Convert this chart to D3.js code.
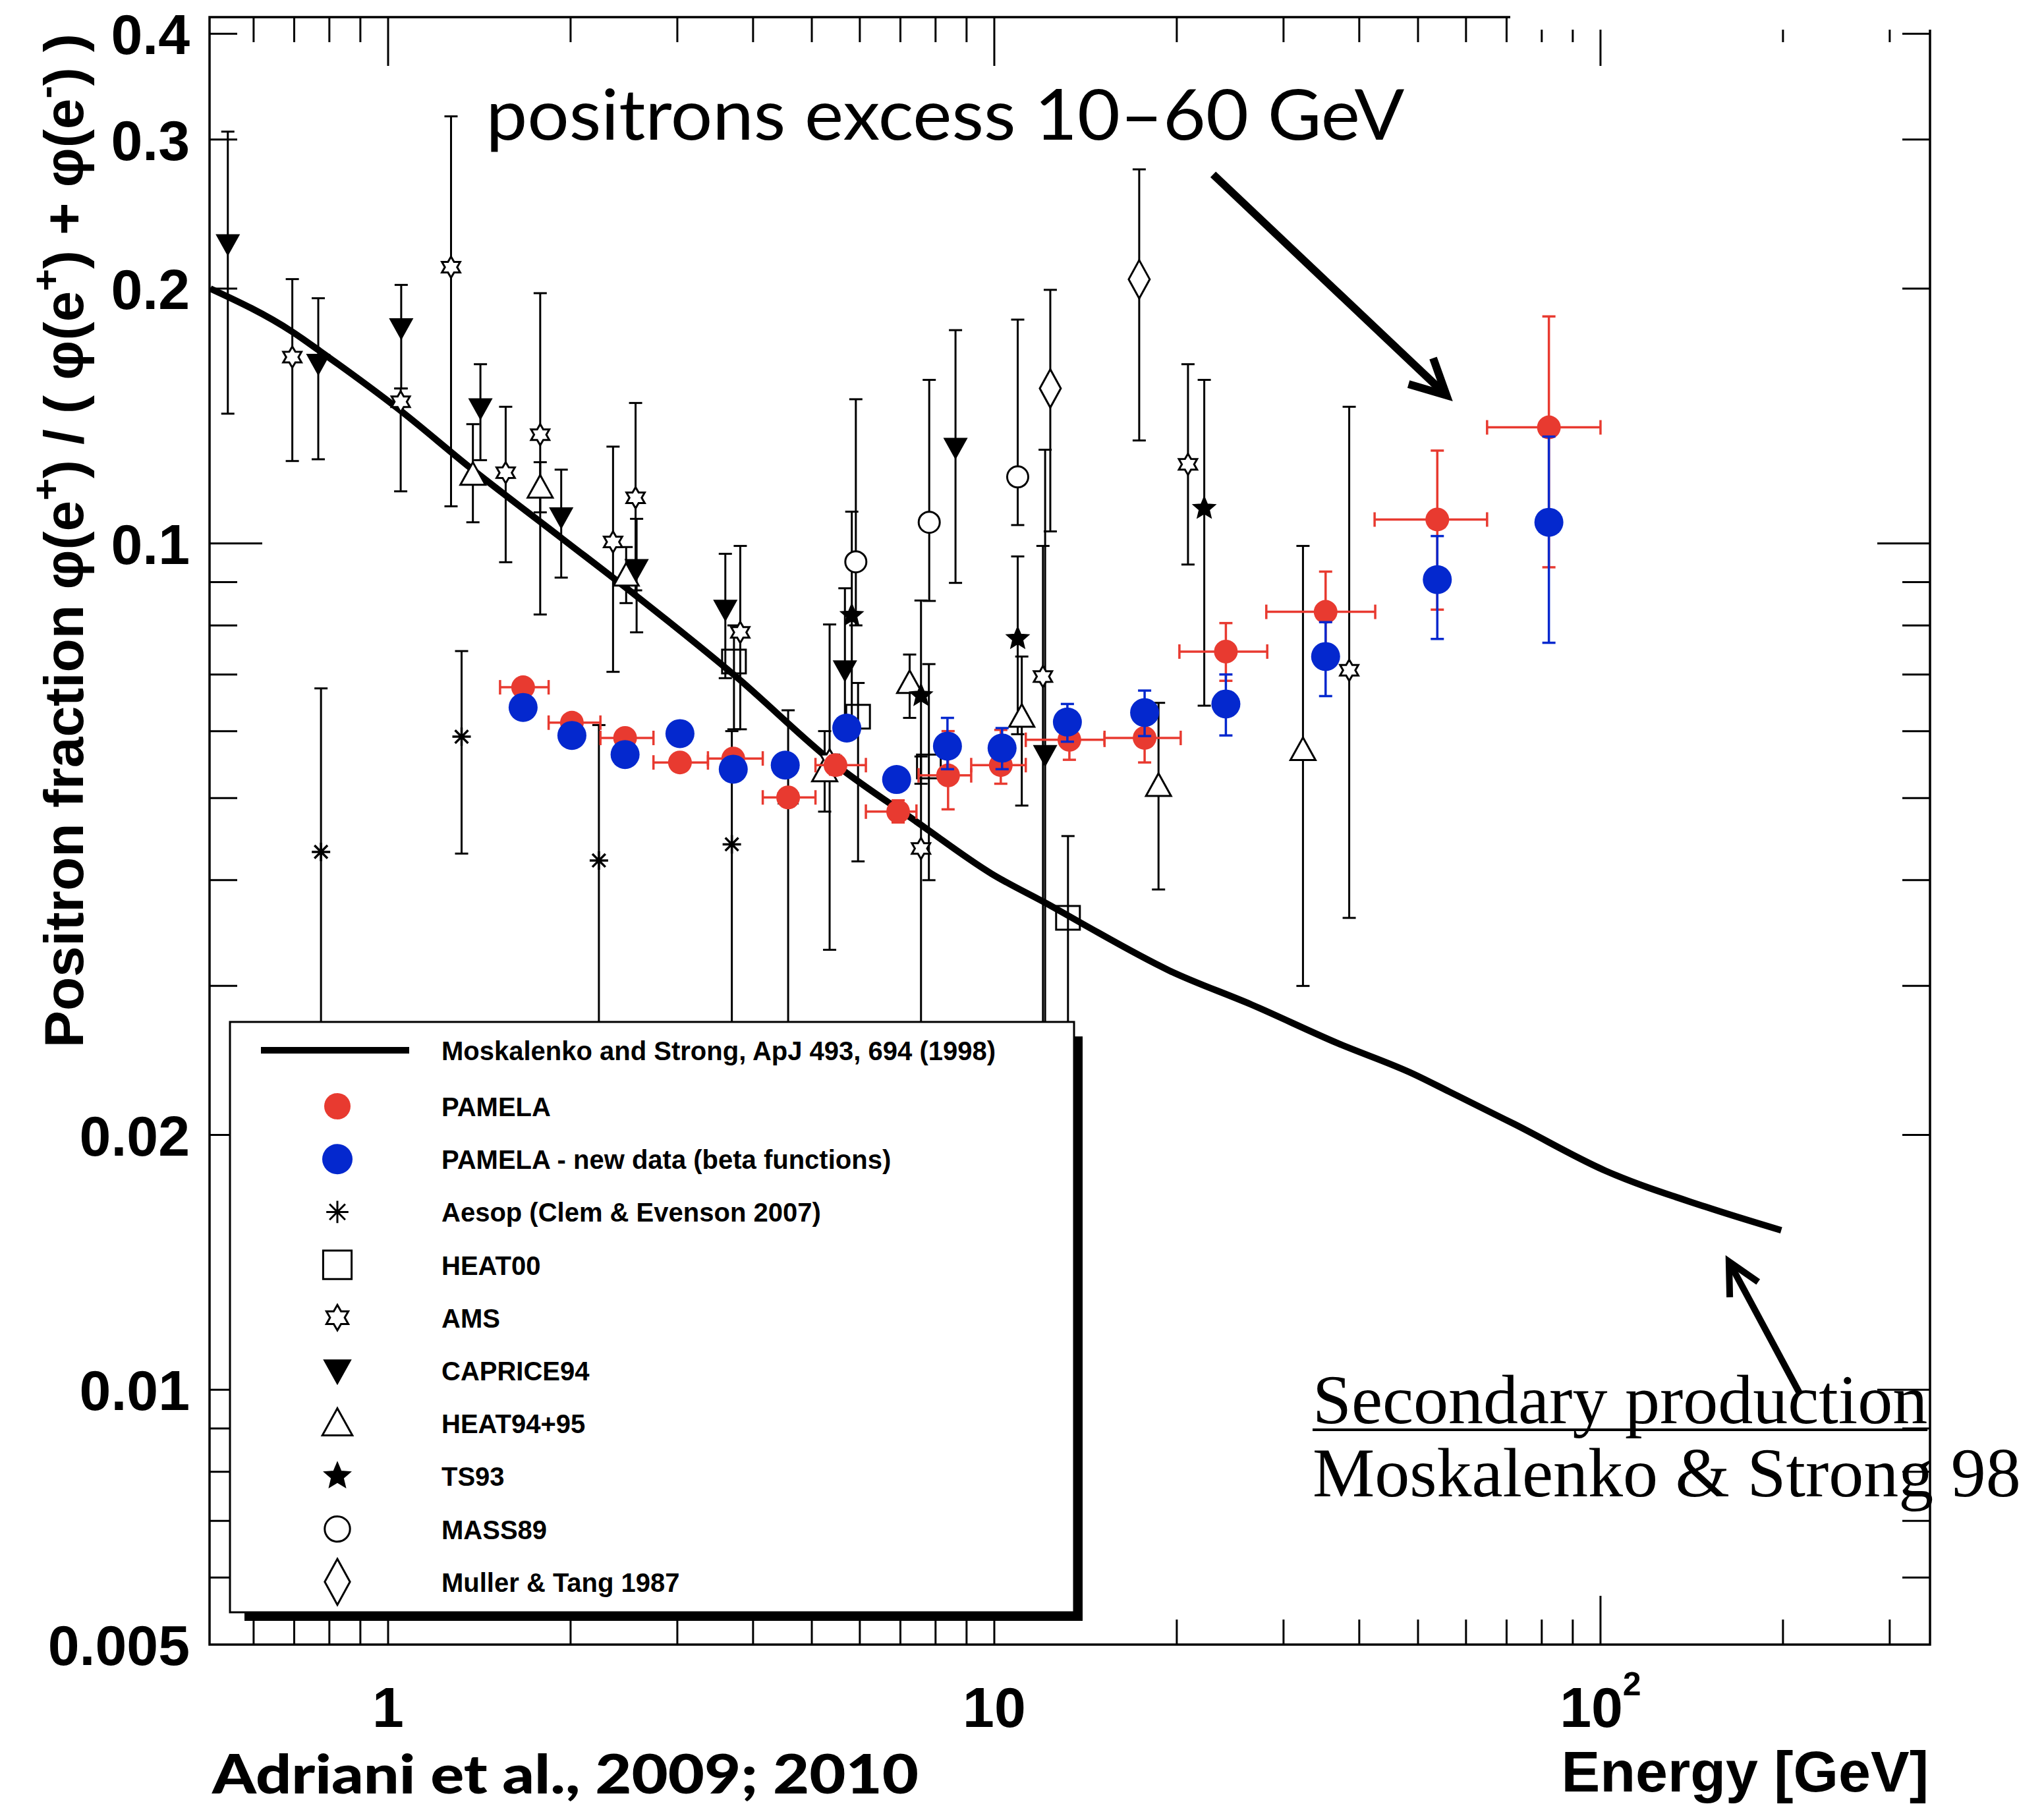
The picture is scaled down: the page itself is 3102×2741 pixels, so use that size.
<!DOCTYPE html>
<html>
<head>
<meta charset="utf-8">
<script src="https://cdn.jsdelivr.net/npm/d3@7/dist/d3.min.js"></script>
<style>
  body { margin: 0; background: #fff; }
  svg { display: block; }
</style>
</head>
<body>
<div id="chart"></div>
<script>
// ---- values ----

// Moskalenko & Strong secondary production: [E (GeV), e+ fraction]
const msCurve = [
  [0.509, 0.200], [0.695, 0.1778], [0.771, 0.1688], [1.043, 0.1439], [1.369, 0.1227],
  [1.93, 0.1015], [2.55, 0.087], [3.74, 0.0697], [5.47, 0.0548],
  [7.44, 0.0469], [9.9, 0.0407], [12.4, 0.0373], [14.1, 0.0354], [19.4, 0.0313],
  [26.6, 0.0285], [36.7, 0.0257], [49.2, 0.0236], [56.3, 0.0225], [72.1, 0.0206],
  [101.8, 0.01815], [149, 0.01645], [198.7, 0.01543]
];

// PAMELA: [E, f, Elow, Ehigh, fLow, fHigh]
const pamela = [
  [1.67, 0.0676, 1.53, 1.84, 0.0664, 0.0690],
  [2.01, 0.0614, 1.84, 2.24, 0.0603, 0.0626],
  [2.46, 0.0589, 2.24, 2.74, 0.0578, 0.0600],
  [3.03, 0.0551, 2.74, 3.37, 0.0540, 0.0562],
  [3.71, 0.0557, 3.37, 4.15, 0.0545, 0.0569],
  [4.57, 0.0501, 4.15, 5.07, 0.0489, 0.0513],
  [5.47, 0.0547, 5.07, 6.14, 0.0533, 0.0561],
  [6.94, 0.0482, 6.14, 7.44, 0.0468, 0.0497],
  [8.39, 0.0532, 7.50, 9.16, 0.0485, 0.0600],
  [10.25, 0.0547, 9.16, 11.27, 0.0520, 0.0602],
  [13.3, 0.0586, 11.27, 15.2, 0.0555, 0.0620],
  [17.7, 0.0589, 15.2, 20.3, 0.0551, 0.0640],
  [24.1, 0.0745, 20.2, 28.2, 0.0688, 0.0805],
  [35.2, 0.0830, 28.1, 42.5, 0.0746, 0.0926],
  [53.8, 0.1067, 42.4, 65.0, 0.0835, 0.1287],
  [82.2, 0.1371, 65.0, 100, 0.0937, 0.1854]
];

// PAMELA new data (beta functions): [E, f, fLow, fHigh]
const pamelaNew = [
  [1.67, 0.0640, 0.0630, 0.0650], [2.01, 0.0593, 0.0584, 0.0602],
  [2.46, 0.0563, 0.0554, 0.0572], [3.03, 0.0596, 0.0587, 0.0606],
  [3.71, 0.0541, 0.0531, 0.0551], [4.52, 0.0547, 0.0536, 0.0558],
  [5.71, 0.0605, 0.0592, 0.0618], [6.9, 0.0526, 0.0513, 0.0540],
  [8.37, 0.0576, 0.0541, 0.0622], [10.3, 0.0573, 0.0541, 0.0605],
  [13.2, 0.0615, 0.0583, 0.0646], [17.7, 0.0631, 0.0592, 0.0670],
  [24.1, 0.0646, 0.0593, 0.0700], [35.2, 0.0735, 0.0660, 0.0807],
  [53.8, 0.0906, 0.0771, 0.1020], [82.2, 0.1059, 0.0763, 0.1337]
];

// other experiments: [E, f, fLow, fHigh]
const aesop = [
  [0.775, 0.0432, 0.008, 0.0674], [1.322, 0.0591, 0.0430, 0.0746],
  [2.227, 0.0422, 0.008, 0.0610], [3.69, 0.0441, 0.008, 0.0600]
];
const heat00 = [
  [3.72, 0.0725, 0.0603, 0.0800], [5.96, 0.0624, 0.0421, 0.0684],
  [7.8, 0.0545, 0.0400, 0.0720], [13.23, 0.0361, 0.008, 0.0451]
];
const ams = [
  [0.695, 0.166, 0.1251, 0.2052], [1.049, 0.147, 0.1152, 0.1524],
  [1.27, 0.212, 0.1106, 0.3195], [1.563, 0.1212, 0.0950, 0.1450],
  [1.782, 0.1344, 0.0824, 0.1975], [2.35, 0.1004, 0.0705, 0.1301],
  [2.56, 0.1132, 0.0880, 0.1465], [3.81, 0.0785, 0.0603, 0.0993],
  [4.57, 0.0500, 0.008, 0.0635], [5.35, 0.0555, 0.0331, 0.0802],
  [7.57, 0.0436, 0.008, 0.0560], [12.03, 0.0696, 0.008, 0.0993],
  [20.87, 0.124, 0.0944, 0.1628], [38.5, 0.0708, 0.0361, 0.1450]
];
const caprice94 = [
  [0.544, 0.226, 0.1423, 0.3065], [0.767, 0.1632, 0.1257, 0.1948],
  [1.051, 0.1798, 0.1524, 0.2020], [1.42, 0.1446, 0.1254, 0.1628],
  [1.93, 0.1075, 0.0911, 0.1222], [2.57, 0.0934, 0.0785, 0.1069],
  [3.60, 0.0836, 0.0693, 0.0972], [5.67, 0.0709, 0.0600, 0.0885],
  [8.63, 0.1299, 0.0898, 0.1786], [12.13, 0.0563, 0.008, 0.1290]
];
const heat9495 = [
  [1.38, 0.1205, 0.1059, 0.1383], [1.782, 0.1164, 0.1088, 0.1247],
  [2.47, 0.0916, 0.0850, 0.0990], [5.25, 0.0538, 0.0482, 0.0600],
  [7.25, 0.0684, 0.0622, 0.0739], [11.1, 0.0624, 0.0490, 0.0735],
  [18.66, 0.0517, 0.0390, 0.0648], [32.3, 0.0570, 0.0300, 0.0993]
];
const ts93 = [
  [5.82, 0.0822, 0.0620, 0.1090], [7.57, 0.0661, 0.0520, 0.0856],
  [10.93, 0.0772, 0.0595, 0.0965], [22.2, 0.110, 0.0643, 0.156]
];
const mass89 = [
  [5.91, 0.0951, 0.0800, 0.148], [7.81, 0.1059, 0.0855, 0.156],
  [10.93, 0.1198, 0.1051, 0.1838]
];
const mullerTang = [
  [12.37, 0.1524, 0.1033, 0.1993], [17.34, 0.2051, 0.1323, 0.2766]
];

const legendLabels = [
  "Moskalenko and Strong, ApJ 493, 694 (1998)", "PAMELA",
  "PAMELA - new data (beta functions)", "Aesop (Clem & Evenson 2007)", "HEAT00",
  "AMS", "CAPRICE94", "HEAT94+95", "TS93", "MASS89", "Muller & Tang 1987"
];
const legendKeys = ["line", "pamela", "pamelaNew", "asterisk", "square", "star6",
  "triDown", "triUp", "star5", "circle", "diamond"];

const xMajorTicks = [1, 10, 100];
const xMinorTicks = [0.6, 0.7, 0.8, 0.9, 2, 3, 4, 5, 6, 7, 8, 9,
  20, 30, 40, 50, 60, 70, 80, 90, 200, 300];
const yMajorTicks = [0.01, 0.1];
const yMinorTicks = [0.006, 0.007, 0.008, 0.009, 0.02, 0.03, 0.04, 0.05, 0.06,
  0.07, 0.08, 0.09, 0.2, 0.3, 0.4];
const xTickLabels = [[1, "1"], [10, "10"], [100, "10^2"]];
const yTickLabels = [0.4, 0.3, 0.2, 0.1, 0.02, 0.01, 0.005];

// 1) canvas
const W = 3102, H = 2741;
const plot = { left: 318, right: 2929, top: 26, bottom: 2496 };
const RED = "rgb(232,58,48)", BLUE = "rgb(4,40,206)";
const SANS = "'Liberation Sans', Arial, Helvetica, sans-serif";

const svg = d3.select("#chart").append("svg")
  .attr("width", W).attr("height", H)
  .style("background", "#fff");

// 2) scales
const x = d3.scaleLog().domain([0.5075, 349.6]).range([plot.left, plot.right]);
const y = d3.scaleLog().domain([0.005, 0.4185]).range([plot.bottom, plot.top]);

// 3) frame + ticks (ROOT style: ticks on all four sides, pointing inwards)
const axisG = svg.append("g").attr("stroke", "#000").attr("stroke-width", 3);
axisG.append("rect")
  .attr("x", plot.left).attr("y", plot.top)
  .attr("width", plot.right - plot.left).attr("height", plot.bottom - plot.top)
  .attr("fill", "none").attr("stroke-width", 3.5);

const xTicks = xMajorTicks.map(v => [v, 74]).concat(xMinorTicks.map(v => [v, 38]));
const yTicks = yMajorTicks.map(v => [v, 80]).concat(yMinorTicks.map(v => [v, 42]));

axisG.selectAll("line.xb").data(xTicks).join("line")
  .attr("x1", d => x(d[0])).attr("x2", d => x(d[0]))
  .attr("y1", plot.bottom).attr("y2", d => plot.bottom - d[1]);
axisG.selectAll("line.xt").data(xTicks).join("line")
  .attr("x1", d => x(d[0])).attr("x2", d => x(d[0]))
  .attr("y1", plot.top).attr("y2", d => plot.top + d[1]);
axisG.selectAll("line.yl").data(yTicks).join("line")
  .attr("y1", d => y(d[0])).attr("y2", d => y(d[0]))
  .attr("x1", plot.left).attr("x2", d => plot.left + d[1]);
axisG.selectAll("line.yr").data(yTicks).join("line")
  .attr("y1", d => y(d[0])).attr("y2", d => y(d[0]))
  .attr("x1", plot.right).attr("x2", d => plot.right - d[1]);

// the slide had a white box pasted over the top right corner
svg.append("rect").attr("x", 2292).attr("y", 0).attr("width", W - 2292).attr("height", 45)
  .attr("fill", "#fff");

// 4) tick labels
svg.append("g").selectAll("text").data(yTickLabels).join("text")
  .attr("x", 288).attr("y", d => y(d) + 31)
  .attr("text-anchor", "end")
  .attr("font-family", SANS).attr("font-weight", "bold").attr("font-size", 86)
  .text(d => String(d));

xTickLabels.forEach(([v, t]) => {
  const parts = t.split("^");
  const tx = svg.append("text")
    .attr("x", x(v)).attr("y", 2621)
    .attr("text-anchor", "middle")
    .attr("font-family", SANS).attr("font-weight", "bold").attr("font-size", 86);
  tx.append("tspan").text(parts[0]);
  if (parts[1]) tx.append("tspan").attr("dy", -48).attr("font-size", 50).text(parts[1]);
});

// 5) axis titles
svg.append("text")
  .attr("x", 2927).attr("y", 2719).attr("text-anchor", "end")
  .attr("font-family", SANS).attr("font-weight", "bold").attr("font-size", 88)
  .text("Energy [GeV]");

const yLab = svg.append("text")
  .attr("transform", "translate(126,1590) rotate(-90)")
  .attr("font-family", SANS).attr("font-weight", "bold").attr("font-size", 84);
[["Positron fraction \u03c6(e", 0], ["+", 1], [") / ( \u03c6(e", 0], ["+", 1],
 [") + \u03c6(e", 0], ["-", 1], [") )", 0]].forEach(([t, sup], i, arr) => {
  const prevSup = i > 0 && arr[i - 1][1];
  const sp = yLab.append("tspan").text(t);
  if (sup) sp.attr("dy", -36).attr("font-size", 58);
  else if (prevSup) sp.attr("dy", 36);
});

// 6) marker shapes
function poly(c, pts) {
  pts.forEach((p, i) => i ? c.lineTo(p[0], p[1]) : c.moveTo(p[0], p[1]));
  c.closePath();
}
function starPts(n, R, r) {
  return d3.range(2 * n).map(i => {
    const a = -Math.PI / 2 + i * Math.PI / n, rr = i % 2 ? r : R;
    return [rr * Math.cos(a), rr * Math.sin(a)];
  });
}
const shapes = {
  circle:  { draw(c, s) { const r = Math.sqrt(s) / 2; c.moveTo(r, 0); c.arc(0, 0, r, 0, 2 * Math.PI); } },
  square:  { draw(c, s) { const r = Math.sqrt(s) / 2; c.rect(-r, -r, 2 * r, 2 * r); } },
  triDown: { draw(c, s) { const r = Math.sqrt(s) / 2; poly(c, [[0, r], [-r, -r * 0.8], [r, -r * 0.8]]); } },
  triUp:   { draw(c, s) { const r = Math.sqrt(s) / 2; poly(c, [[0, -r], [r, r * 0.8], [-r, r * 0.8]]); } },
  diamond: { draw(c, s) { const r = Math.sqrt(s) / 2; poly(c, [[0, -r], [r * 0.55, 0], [0, r], [-r * 0.55, 0]]); } },
  star6:   { draw(c, s) { const R = Math.sqrt(s) / 2; poly(c, starPts(6, R, R * 0.58)); } },
  star5:   { draw(c, s) { const R = Math.sqrt(s) / 2; poly(c, starPts(5, R, R * 0.45)); } },
  asterisk:{ draw(c, s) {
    const r = Math.sqrt(s) / 2;
    for (let i = 0; i < 4; i++) {
      const a = i * Math.PI / 4;
      c.moveTo(r * Math.cos(a), r * Math.sin(a)); c.lineTo(-r * Math.cos(a), -r * Math.sin(a));
    }
  } }
};
const styles = {
  asterisk: { size: 28, fill: "none" },
  square:   { size: 36, fill: "none" },
  star6:    { size: 32, fill: "#fff" },
  triDown:  { size: 32, fill: "#000" },
  triUp:    { size: 38, fill: "#fff" },
  star5:    { size: 32, fill: "#000" },
  circle:   { size: 32, fill: "#fff" },
  diamond:  { size: 58, fill: "#fff" }
};
const sym = (shape, size) => d3.symbol().type(shapes[shape]).size(size * size)();

// 7) Moskalenko & Strong curve
svg.append("path")
  .datum(msCurve)
  .attr("d", d3.line().x(d => x(d[0])).y(d => y(d[1])).curve(d3.curveMonotoneX))
  .attr("fill", "none").attr("stroke", "#000").attr("stroke-width", 10)
  .attr("stroke-linejoin", "round");

// 8) black data sets with vertical error bars
function vErr(g, data, E, lo, hi, color, cap, sw) {
  const eg = g.append("g").attr("stroke", color).attr("stroke-width", sw);
  eg.selectAll("line.v").data(data).join("line")
    .attr("x1", d => x(d[E])).attr("x2", d => x(d[E]))
    .attr("y1", d => y(d[lo])).attr("y2", d => y(d[hi]));
  [lo, hi].forEach(k => {
    eg.selectAll(null).data(data).join("line")
      .attr("x1", d => x(d[E]) - cap / 2).attr("x2", d => x(d[E]) + cap / 2)
      .attr("y1", d => y(d[k])).attr("y2", d => y(d[k]));
  });
}

const blackSets = [
  [aesop, "asterisk"], [heat00, "square"], [heat9495, "triUp"], [ams, "star6"],
  [mass89, "circle"], [mullerTang, "diamond"], [caprice94, "triDown"], [ts93, "star5"]
];
const dataG = svg.append("g");
blackSets.forEach(([data]) => vErr(dataG, data, 0, 2, 3, "#000", 20, 3));
blackSets.forEach(([data, shape]) => {
  const st = styles[shape];
  dataG.append("g").selectAll("path").data(data).join("path")
    .attr("d", sym(shape, st.size))
    .attr("transform", d => `translate(${x(d[0])},${y(d[1])})`)
    .attr("fill", st.fill).attr("stroke", "#000")
    .attr("stroke-width", shape === "asterisk" ? 3.5 : 3);
});

// 9) PAMELA points
const pamG = svg.append("g");
vErr(pamG, pamela, 0, 4, 5, RED, 20, 3.5);
pamG.append("g").attr("stroke", RED).attr("stroke-width", 3.5)
  .call(g => {
    g.selectAll("line.h").data(pamela).join("line")
      .attr("x1", d => x(d[2])).attr("x2", d => x(d[3]))
      .attr("y1", d => y(d[1])).attr("y2", d => y(d[1]));
    [2, 3].forEach(k => g.selectAll(null).data(pamela).join("line")
      .attr("x1", d => x(d[k])).attr("x2", d => x(d[k]))
      .attr("y1", d => y(d[1]) - 11).attr("y2", d => y(d[1]) + 11));
  });
pamG.append("g").selectAll("circle").data(pamela).join("circle")
  .attr("cx", d => x(d[0])).attr("cy", d => y(d[1])).attr("r", 18)
  .attr("fill", RED);

vErr(pamG, pamelaNew, 0, 2, 3, BLUE, 20, 3.5);
pamG.append("g").selectAll("circle").data(pamelaNew).join("circle")
  .attr("cx", d => x(d[0])).attr("cy", d => y(d[1])).attr("r", 22)
  .attr("fill", BLUE);

// 10) legend box with ROOT-like shadow
const lg = { x: 349, y: 1551, w: 1281, h: 896 };
svg.append("rect").attr("x", lg.x + 22).attr("y", lg.y + 22)
  .attr("width", lg.w - 9).attr("height", lg.h - 9).attr("fill", "#000");
svg.append("rect").attr("x", lg.x).attr("y", lg.y)
  .attr("width", lg.w).attr("height", lg.h)
  .attr("fill", "#fff").attr("stroke", "#000").attr("stroke-width", 3);

const rowY = i => i === 0 ? 1594 : 1679 + (i - 1) * 80.2;
const symX = 512;
legendLabels.forEach((label, i) => {
  const key = legendKeys[i], cy = rowY(i);
  if (key === "line") {
    svg.append("line").attr("x1", 396).attr("x2", 621).attr("y1", cy).attr("y2", cy)
      .attr("stroke", "#000").attr("stroke-width", 10);
  } else if (key === "pamela" || key === "pamelaNew") {
    svg.append("circle").attr("cx", symX).attr("cy", cy)
      .attr("r", key === "pamela" ? 20 : 23)
      .attr("fill", key === "pamela" ? RED : BLUE);
  } else {
    const st = styles[key];
    svg.append("path").attr("d", sym(key, st.size * 1.2))
      .attr("transform", `translate(${symX},${cy})`)
      .attr("fill", st.fill).attr("stroke", "#000").attr("stroke-width", 3);
  }
  svg.append("text").attr("x", 670).attr("y", cy + 15)
    .attr("font-family", SANS).attr("font-weight", "bold").attr("font-size", 40)
    .text(label);
});

// 11) annotations
function arrow(from, to, sw, headLen) {
  const x0 = x(from[0]), y0 = y(from[1]), x1 = x(to[0]), y1 = y(to[1]);
  const a = Math.atan2(y0 - y1, x0 - x1), spread = 0.47;
  const g = svg.append("g").attr("stroke", "#000").attr("stroke-width", sw)
    .attr("fill", "none").attr("stroke-linecap", "butt");
  g.append("line").attr("x1", x0).attr("y1", y0).attr("x2", x1).attr("y2", y1);
  g.append("path").attr("stroke-linejoin", "miter")
    .attr("d", `M${x1 + headLen * Math.cos(a + spread)},${y1 + headLen * Math.sin(a + spread)}` +
      `L${x1},${y1}L${x1 + headLen * Math.cos(a - spread)},${y1 + headLen * Math.sin(a - spread)}`);
}

svg.append("text")
  .attr("x", x(1.45)).attr("y", y(0.300))
  .attr("font-family", "Lato, 'Open Sans', sans-serif").attr("font-size", 106)
  .attr("textLength", 1394).attr("lengthAdjust", "spacingAndGlyphs")
  .text("positrons excess 10\u201360 GeV");
arrow([22.96, 0.2728], [55.7, 0.1496], 12, 60);

const sec = svg.append("text")
  .attr("x", x(33.5)).attr("y", y(0.00913))
  .attr("font-family", "'Liberation Serif', 'Times New Roman', serif").attr("font-size", 106)
  .text("Secondary production");
const secLen = sec.node().getComputedTextLength();
svg.append("line")
  .attr("x1", x(33.5)).attr("x2", x(33.5) + secLen)
  .attr("y1", y(0.00913) + 10).attr("y2", y(0.00913) + 10)
  .attr("stroke", "#000").attr("stroke-width", 4);
svg.append("text")
  .attr("x", x(33.5)).attr("y", y(0.00748))
  .attr("font-family", "'Liberation Serif', 'Times New Roman', serif").attr("font-size", 106)
  .text("Moskalenko & Strong 98");
arrow([213.5, 0.00988], [162.9, 0.01417], 10, 54);

svg.append("text")
  .attr("x", 322).attr("y", 2722)
  .attr("font-family", "Lato, 'Open Sans', sans-serif").attr("font-weight", 900)
  .attr("font-size", 82)
  .attr("textLength", 1072).attr("lengthAdjust", "spacingAndGlyphs")
  .text("Adriani et al., 2009; 2010");
</script>
</body>
</html>
